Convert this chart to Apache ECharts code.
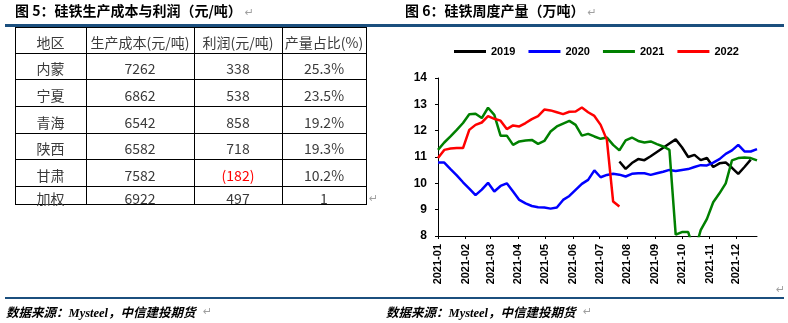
<!DOCTYPE html>
<html><head><meta charset="utf-8">
<script src="https://cdn.jsdelivr.net/npm/echarts@6/dist/echarts.min.js"></script>
<style>
html,body{margin:0;padding:0;background:#fff;width:788px;height:323px;overflow:hidden;}
#chart{position:absolute;left:0;top:0;width:788px;height:323px;}
.a{position:absolute;white-space:nowrap;}
.ttl{font-family:"Noto Sans CJK SC",sans-serif;font-weight:700;font-size:14px;color:#000;line-height:18px;}
.ttl i{font-style:normal;font-family:"DejaVu Sans",sans-serif;font-weight:400;font-size:11px;color:#a0a0a0;margin-left:3px;}
.ret{font-family:"DejaVu Sans",sans-serif;font-size:11px;color:#a0a0a0;line-height:14px;}
.rule{position:absolute;background:#1B4F7E;}
.hl{position:absolute;background:#000;height:1px;}
.vl{position:absolute;background:#000;width:1px;}
.cell{position:absolute;text-align:center;font-family:"Noto Sans CJK SC",sans-serif;font-size:14px;color:#3a3a3a;white-space:nowrap;}
.foot{font-family:"Noto Sans CJK SC",sans-serif;font-weight:700;font-style:italic;font-size:12.5px;color:#000;line-height:16px;}
.foot span{font-family:"Liberation Serif",serif;}
</style></head><body>
<div id="chart"></div>
<div id="ov"></div>
<script>
// ---- table data ----
const tableHeaders = ['地区', '生产成本(元/吨)', '利润(元/吨)', '产量占比(%)'];
const regions = ['内蒙', '宁夏', '青海', '陕西', '甘肃', '加权'];
const costs = ['7262', '6862', '6542', '6582', '7582', '6922'];
const profits = ['338', '538', '858', '718', '(182)', '497'];
const shares = ['25.3%', '23.5%', '19.2%', '19.3%', '10.2%', '1'];

// ---- chart data (weekly, plotted on 2021 calendar) ----
const seriesNames = ['2019', '2020', '2021', '2022'];
const xTickFormat = '{yyyy}-{MM}';
const v2019 = [null,null,null,null,null,null,null,null,null,null,null,null,null,null,null,null,null,null,null,null,null,null,null,null,null,null,null,null,null,
  10.83,10.55,10.77,10.92,10.88,11.03,11.19,11.35,11.51,11.67,11.37,11.0,11.08,10.88,10.96,10.62,10.76,10.79,10.59,10.36,10.62,10.9,null];
const v2020 = [10.79,10.79,10.54,10.30,10.04,9.80,9.55,9.76,10.02,9.69,9.90,10.00,9.69,9.37,9.24,9.14,9.09,9.08,9.04,9.08,
  9.37,9.52,9.75,9.98,10.13,10.49,10.23,10.32,10.36,10.33,10.26,10.36,10.38,10.38,10.32,10.38,10.44,10.51,10.47,10.51,
  10.54,10.62,10.69,10.68,10.79,10.92,11.12,11.25,11.46,11.21,11.21,11.30];
const v2021 = [11.27,11.55,11.78,12.03,12.29,12.62,12.64,12.48,12.87,12.60,11.81,11.81,11.46,11.59,11.63,11.65,11.50,11.61,11.97,12.16,
  12.27,12.37,12.22,11.81,11.88,11.78,11.69,11.74,11.46,11.25,11.63,11.74,11.61,11.55,11.59,11.49,11.40,11.27,8.05,8.15,
  8.15,7.4,8.22,8.65,9.28,9.62,10.0,10.87,10.96,10.98,10.96,10.87];
const v2022 = [10.96,11.27,11.32,11.34,11.34,12.03,12.22,12.31,12.55,12.45,12.38,12.06,12.20,12.16,12.29,12.44,12.55,12.80,12.77,12.70,
  12.63,12.72,12.73,12.88,12.70,12.56,12.22,11.65,9.31,9.12,
  null,null,null,null,null,null,null,null,null,null,null,null,null,null,null,null,null,null,null,null,null,null];
const weekStart = '2021-01-01';
const weeks = [];
for (let i = 0; i < 52; i++) {
  const d = new Date(Date.UTC(2021, 0, 1 + 7 * i));
  weeks.push(d.toISOString().slice(0, 10));
}
const colors = ['#000000', '#0000FF', '#008000', '#FF0000'];

// ---- static page text & table ----
const ov = document.getElementById('ov');
function add(cls, style, html) {
  const d = document.createElement('div');
  d.className = cls; d.style.cssText = style; d.innerHTML = html; ov.appendChild(d); return d;
}
add('a ttl', 'left:15px;top:1px;', '图 5：硅铁生产成本与利润（元/吨）<i>↵</i>');
add('a ttl', 'left:405px;top:1px;', '图 6：硅铁周度产量（万吨）<i>↵</i>');
add('rule', 'left:5px;top:24px;width:779px;height:2.5px;', '');
add('rule', 'left:5px;top:296.5px;width:779px;height:2.5px;', '');
add('a foot', 'left:6px;top:303.5px;', '数据来源：<span>Mysteel</span>，中信建投期货');
add('a ret', 'left:203px;top:305px;', '↵');
add('a foot', 'left:386px;top:303.5px;', '数据来源：<span>Mysteel</span>，中信建投期货');
add('a ret', 'left:583px;top:305px;', '↵');
add('a ret', 'left:776px;top:283px;', '↵');
add('a ret', 'left:369px;top:192px;', '↵');

const colX = [15, 86, 194, 282, 366];
const rowY = [26.5, 52.5, 79.3, 106, 132.7, 159.3, 186, 204.3];
rowY.forEach(y => add('hl', `left:${colX[0]}px;top:${y}px;width:${colX[4]-colX[0]+1}px;`, ''));
colX.forEach(x => add('vl', `left:${x}px;top:${rowY[0]}px;height:${rowY[7]-rowY[0]+1}px;`, ''));
const rows = [tableHeaders].concat(regions.map((r, i) => [r, costs[i], profits[i], shares[i]]));
rows.forEach((row, r) => {
  const y0 = rowY[r], h = rowY[r + 1] - rowY[r];
  row.forEach((txt, c) => {
    const isNeg = /^\(/.test(txt);
    add('cell', `left:${colX[c]}px;width:${colX[c+1]-colX[c]}px;top:${y0+2.5}px;height:${h}px;line-height:${h}px;` + (isNeg ? 'color:#FF0000;' : ''), txt);
  });
});

// ---- chart ----
const chart = echarts.init(document.getElementById('chart'), null, {renderer: 'canvas'});
const vals = [v2019, v2020, v2021, v2022];
const FF = 'Liberation Sans, Arial, sans-serif';
const option = {
  animation: false,
  backgroundColor: 'transparent',
  legend: {
    left: 449, top: 41, itemWidth: 32, itemHeight: 3, itemGap: 13, icon: 'rect',
    data: seriesNames,
    textStyle: {fontFamily: FF, fontWeight: 'bold', fontSize: 11, color: '#000'}
  },
  grid: {left: 438, right: 31, top: 78, bottom: 87, outerBoundsMode: 'none', containLabel: false},
  xAxis: {
    type: 'time', min: weekStart, max: weeks[weeks.length - 1],
    splitNumber: 12, minInterval: 28 * 864e5, maxInterval: 31 * 864e5,
    axisLine: {show: true, lineStyle: {color: '#000', width: 1}},
    axisTick: {show: true, length: 3, lineStyle: {color: '#000'}},
    minorTick: {show: false},
    splitLine: {show: false},
    axisLabel: {rotate: 90, formatter: xTickFormat, fontFamily: FF, fontWeight: 'bold', fontSize: 11, color: '#000', margin: 8, hideOverlap: false, showMaxLabel: false}
  },
  yAxis: {
    type: 'value', min: 8, max: 14, interval: 1,
    axisLine: {show: true, lineStyle: {color: '#000', width: 1}},
    axisTick: {show: true, length: 3, lineStyle: {color: '#000'}},
    splitLine: {show: false},
    axisLabel: {fontFamily: FF, fontWeight: 'bold', fontSize: 12, color: '#000', margin: 11}
  },
  series: seriesNames.map((n, k) => ({
    name: n, type: 'line', symbol: 'none', clip: true,
    color: colors[k],
    lineStyle: {width: 2.5, color: colors[k]},
    data: weeks.map((w, i) => vals[k][i] == null ? null : [w, vals[k][i]]).filter(p => p)
  }))
};
chart.setOption(option);
</script>
</body></html>
